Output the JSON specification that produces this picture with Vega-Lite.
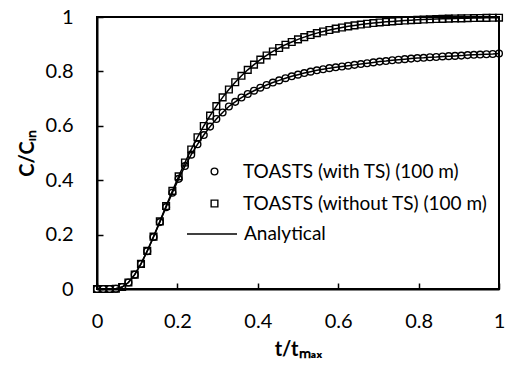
{
  "$schema": "https://vega.github.io/schema/vega-lite/v6.json",
  "width": 402,
  "height": 272,
  "autosize": {"type": "none"},
  "padding": {"left": 97, "top": 17, "right": 8, "bottom": 77},
  "background": "white",
  "config": {
    "font": "Lato",
    "view": {"stroke": "black", "strokeWidth": 2},
    "axis": {
      "domainColor": "black", "domainWidth": 2,
      "tickColor": "black", "tickWidth": 1.5, "tickSize": -6,
      "grid": false, "labelFlush": false, "format": "~g",
      "labelFont": "Lato", "labelFontSize": 20, "labelColor": "black",
      "titleFont": "Lato", "titleFontSize": 20, "titleFontWeight": "bold", "titleColor": "black"
    },
    "legend": {"padding": 0, "labelFont": "Lato", "labelFontSize": 19, "labelColor": "black", "labelLimit": 0}
  },
  "data": {
    "values": [
      {"t": 0, "s": "without TS", "c": 0},
      {"t": 0.0156, "s": "without TS", "c": 0},
      {"t": 0.0313, "s": "without TS", "c": 0},
      {"t": 0.0469, "s": "without TS", "c": 0.001},
      {"t": 0.0625, "s": "without TS", "c": 0.0074},
      {"t": 0.0781, "s": "without TS", "c": 0.0238},
      {"t": 0.0938, "s": "without TS", "c": 0.0528},
      {"t": 0.1094, "s": "without TS", "c": 0.0923},
      {"t": 0.125, "s": "without TS", "c": 0.14},
      {"t": 0.1406, "s": "without TS", "c": 0.1927},
      {"t": 0.1563, "s": "without TS", "c": 0.2485},
      {"t": 0.1719, "s": "without TS", "c": 0.305},
      {"t": 0.1875, "s": "without TS", "c": 0.3606},
      {"t": 0.2031, "s": "without TS", "c": 0.4142},
      {"t": 0.2188, "s": "without TS", "c": 0.4651},
      {"t": 0.2344, "s": "without TS", "c": 0.5131},
      {"t": 0.25, "s": "without TS", "c": 0.5579},
      {"t": 0.2656, "s": "without TS", "c": 0.5993},
      {"t": 0.2813, "s": "without TS", "c": 0.6374},
      {"t": 0.2969, "s": "without TS", "c": 0.6725},
      {"t": 0.3125, "s": "without TS", "c": 0.7045},
      {"t": 0.3281, "s": "without TS", "c": 0.7334},
      {"t": 0.3438, "s": "without TS", "c": 0.7602},
      {"t": 0.3594, "s": "without TS", "c": 0.7838},
      {"t": 0.375, "s": "without TS", "c": 0.8058},
      {"t": 0.3906, "s": "without TS", "c": 0.8251},
      {"t": 0.4063, "s": "without TS", "c": 0.8431},
      {"t": 0.4219, "s": "without TS", "c": 0.8587},
      {"t": 0.4375, "s": "without TS", "c": 0.8734},
      {"t": 0.4531, "s": "without TS", "c": 0.886},
      {"t": 0.4688, "s": "without TS", "c": 0.8982},
      {"t": 0.4844, "s": "without TS", "c": 0.9081},
      {"t": 0.5, "s": "without TS", "c": 0.9178},
      {"t": 0.5156, "s": "without TS", "c": 0.9261},
      {"t": 0.5313, "s": "without TS", "c": 0.9337},
      {"t": 0.5469, "s": "without TS", "c": 0.9408},
      {"t": 0.5625, "s": "without TS", "c": 0.9466},
      {"t": 0.5781, "s": "without TS", "c": 0.9522},
      {"t": 0.5938, "s": "without TS", "c": 0.9572},
      {"t": 0.6094, "s": "without TS", "c": 0.9614},
      {"t": 0.625, "s": "without TS", "c": 0.9656},
      {"t": 0.6406, "s": "without TS", "c": 0.9691},
      {"t": 0.6563, "s": "without TS", "c": 0.9722},
      {"t": 0.6719, "s": "without TS", "c": 0.9752},
      {"t": 0.6875, "s": "without TS", "c": 0.9777},
      {"t": 0.7031, "s": "without TS", "c": 0.9799},
      {"t": 0.7188, "s": "without TS", "c": 0.9821},
      {"t": 0.7344, "s": "without TS", "c": 0.9839},
      {"t": 0.75, "s": "without TS", "c": 0.9855},
      {"t": 0.7656, "s": "without TS", "c": 0.987},
      {"t": 0.7813, "s": "without TS", "c": 0.9884},
      {"t": 0.7969, "s": "without TS", "c": 0.9895},
      {"t": 0.8125, "s": "without TS", "c": 0.9906},
      {"t": 0.8281, "s": "without TS", "c": 0.9917},
      {"t": 0.8438, "s": "without TS", "c": 0.9925},
      {"t": 0.8594, "s": "without TS", "c": 0.9932},
      {"t": 0.875, "s": "without TS", "c": 0.994},
      {"t": 0.8906, "s": "without TS", "c": 0.9946},
      {"t": 0.9063, "s": "without TS", "c": 0.9951},
      {"t": 0.9219, "s": "without TS", "c": 0.9956},
      {"t": 0.9375, "s": "without TS", "c": 0.9961},
      {"t": 0.9531, "s": "without TS", "c": 0.9965},
      {"t": 0.9688, "s": "without TS", "c": 0.9968},
      {"t": 0.9844, "s": "without TS", "c": 0.9972},
      {"t": 1, "s": "without TS", "c": 0.9975},
      {"t": 0, "s": "with TS", "c": 0},
      {"t": 0.0156, "s": "with TS", "c": 0},
      {"t": 0.0313, "s": "with TS", "c": 0},
      {"t": 0.0469, "s": "with TS", "c": 0.001},
      {"t": 0.0625, "s": "with TS", "c": 0.0074},
      {"t": 0.0781, "s": "with TS", "c": 0.0238},
      {"t": 0.0938, "s": "with TS", "c": 0.0527},
      {"t": 0.1094, "s": "with TS", "c": 0.092},
      {"t": 0.125, "s": "with TS", "c": 0.139},
      {"t": 0.1406, "s": "with TS", "c": 0.191},
      {"t": 0.1563, "s": "with TS", "c": 0.246},
      {"t": 0.1719, "s": "with TS", "c": 0.301},
      {"t": 0.1875, "s": "with TS", "c": 0.354},
      {"t": 0.2031, "s": "with TS", "c": 0.405},
      {"t": 0.2188, "s": "with TS", "c": 0.452},
      {"t": 0.2344, "s": "with TS", "c": 0.494},
      {"t": 0.25, "s": "with TS", "c": 0.532},
      {"t": 0.2656, "s": "with TS", "c": 0.566},
      {"t": 0.2813, "s": "with TS", "c": 0.597},
      {"t": 0.2969, "s": "with TS", "c": 0.625},
      {"t": 0.3125, "s": "with TS", "c": 0.649},
      {"t": 0.3281, "s": "with TS", "c": 0.671},
      {"t": 0.3438, "s": "with TS", "c": 0.688},
      {"t": 0.3594, "s": "with TS", "c": 0.704},
      {"t": 0.375, "s": "with TS", "c": 0.717},
      {"t": 0.3906, "s": "with TS", "c": 0.729},
      {"t": 0.4063, "s": "with TS", "c": 0.74},
      {"t": 0.4219, "s": "with TS", "c": 0.75},
      {"t": 0.4375, "s": "with TS", "c": 0.759},
      {"t": 0.4531, "s": "with TS", "c": 0.767},
      {"t": 0.4688, "s": "with TS", "c": 0.775},
      {"t": 0.4844, "s": "with TS", "c": 0.782},
      {"t": 0.5, "s": "with TS", "c": 0.788},
      {"t": 0.5156, "s": "with TS", "c": 0.794},
      {"t": 0.5313, "s": "with TS", "c": 0.799},
      {"t": 0.5469, "s": "with TS", "c": 0.804},
      {"t": 0.5625, "s": "with TS", "c": 0.808},
      {"t": 0.5781, "s": "with TS", "c": 0.812},
      {"t": 0.5938, "s": "with TS", "c": 0.815},
      {"t": 0.6094, "s": "with TS", "c": 0.818},
      {"t": 0.625, "s": "with TS", "c": 0.821},
      {"t": 0.6406, "s": "with TS", "c": 0.824},
      {"t": 0.6563, "s": "with TS", "c": 0.827},
      {"t": 0.6719, "s": "with TS", "c": 0.83},
      {"t": 0.6875, "s": "with TS", "c": 0.833},
      {"t": 0.7031, "s": "with TS", "c": 0.836},
      {"t": 0.7188, "s": "with TS", "c": 0.838},
      {"t": 0.7344, "s": "with TS", "c": 0.841},
      {"t": 0.75, "s": "with TS", "c": 0.843},
      {"t": 0.7656, "s": "with TS", "c": 0.845},
      {"t": 0.7813, "s": "with TS", "c": 0.847},
      {"t": 0.7969, "s": "with TS", "c": 0.849},
      {"t": 0.8125, "s": "with TS", "c": 0.85},
      {"t": 0.8281, "s": "with TS", "c": 0.852},
      {"t": 0.8438, "s": "with TS", "c": 0.853},
      {"t": 0.8594, "s": "with TS", "c": 0.855},
      {"t": 0.875, "s": "with TS", "c": 0.856},
      {"t": 0.8906, "s": "with TS", "c": 0.857},
      {"t": 0.9063, "s": "with TS", "c": 0.858},
      {"t": 0.9219, "s": "with TS", "c": 0.86},
      {"t": 0.9375, "s": "with TS", "c": 0.861},
      {"t": 0.9531, "s": "with TS", "c": 0.862},
      {"t": 0.9688, "s": "with TS", "c": 0.863},
      {"t": 0.9844, "s": "with TS", "c": 0.864},
      {"t": 1, "s": "with TS", "c": 0.866}
    ]
  },
  "encoding": {
    "x": {
      "field": "t", "type": "quantitative",
      "scale": {"domain": [0, 1], "nice": false},
      "axis": {"values": [0, 0.2, 0.4, 0.6, 0.8, 1], "title": "t/tₘₐₓ", "labelPadding": 28, "titlePadding": 8}
    },
    "y": {
      "field": "c", "type": "quantitative",
      "scale": {"domain": [0, 1], "nice": false},
      "axis": {"values": [0, 0.2, 0.4, 0.6, 0.8, 1], "title": "C/Cᵢₙ", "labelPadding": 30, "titlePadding": 8}
    }
  },
  "layer": [
    {
      "mark": {"type": "point", "filled": false, "size": 45, "strokeWidth": 1.4, "color": "black", "opacity": 1},
      "encoding": {
        "shape": {
          "field": "s", "type": "nominal",
          "scale": {"domain": ["with TS", "without TS"], "range": ["circle", "square"]},
          "legend": {
            "orient": "none", "legendX": 108, "legendY": 145, "title": null,
            "labelExpr": "'TOASTS (' + datum.label + ') (100 m)'",
            "symbolSize": 45, "symbolStrokeColor": "black", "symbolStrokeWidth": 1.4,
            "labelOffset": 19, "rowPadding": 12
          }
        }
      }
    },
    {
      "mark": {"type": "line", "strokeWidth": 1.5},
      "encoding": {
        "detail": {"field": "s", "type": "nominal"},
        "color": {
          "datum": "Analytical",
          "scale": {"range": ["black"]},
          "legend": {
            "orient": "none", "legendX": 89, "legendY": 191, "title": null,
            "symbolType": "stroke", "symbolSize": 2500, "symbolStrokeWidth": 1.5,
            "labelOffset": 6
          }
        }
      }
    }
  ]
}
